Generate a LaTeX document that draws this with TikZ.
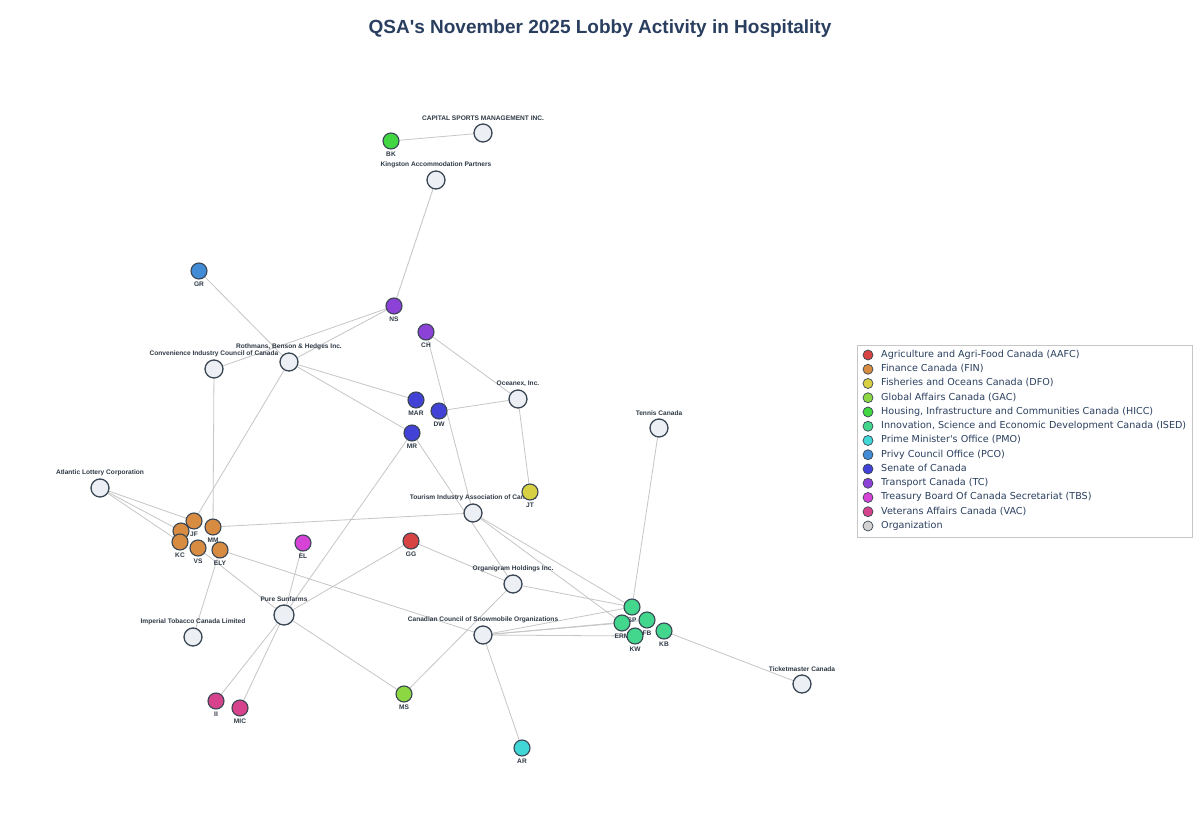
\documentclass[tikz,border=0pt]{standalone}
\usepackage{fontspec}
\setmainfont{Liberation Sans}
\newfontfamily\legfont{DejaVu Sans}
\usetikzlibrary{backgrounds}
\definecolor{aafc}{HTML}{D74242}
\definecolor{fin}{HTML}{D78C42}
\definecolor{dfo}{HTML}{D7D042}
\definecolor{gac}{HTML}{8CD742}
\definecolor{hicc}{HTML}{42D742}
\definecolor{ised}{HTML}{42D78C}
\definecolor{pmo}{HTML}{42D7D7}
\definecolor{pco}{HTML}{428CD7}
\definecolor{sen}{HTML}{4242D7}
\definecolor{tc}{HTML}{8C42D7}
\definecolor{tbs}{HTML}{D742D7}
\definecolor{vac}{HTML}{D7428C}
\definecolor{orgfill}{HTML}{ECF0F4}
\definecolor{orgleg}{HTML}{D3D3D3}
\definecolor{inkc}{HTML}{2A3F5F}
\definecolor{labc}{HTML}{2F3A46}
\definecolor{rimc}{HTML}{3A4654}
\definecolor{edgec}{HTML}{C6C6C6}
\begin{document}
\begin{tikzpicture}
      [x=1pt, y=-1pt,
      every label/.style={font=\bfseries\fontsize{6.6}{7}\selectfont, text=labc, inner sep=0pt},
      label distance=2.5pt,
      person/.style={circle, inner sep=0pt, minimum size=16pt, draw=rimc, line width=1.1pt, fill=#1},
      org/.style={circle, inner sep=0pt, minimum size=18pt, draw=rimc, line width=1.3pt, fill=orgfill},
      edge/.style={draw=edgec, line width=0.8pt},
      legdot/.style={circle, inner sep=0pt, minimum size=10pt, draw=rimc, line width=0.7pt, fill=#1},
      legtext/.style={anchor=west, inner sep=0pt, text height=6.9pt, text depth=2pt,
        font=\legfont\fontsize{9.6}{11}\selectfont, text=inkc},
      ]
      \useasboundingbox (0,0) rectangle (1200,840);
      \node[font=\bfseries\fontsize{19}{22}\selectfont, text=inkc] (title) at (600,29)
        {QSA\textquotesingle s November 2025 Lobby Activity in Hospitality};

      \node[org, label=above:{CAPITAL SPORTS MANAGEMENT INC.}] (capital) at (483,133) {};
      \node[org, label=above:{Kingston Accommodation Partners}] (kingston) at (436,180) {};
      \node[org, label=above:{Rothmans, Benson \& Hedges Inc.}] (rothmans) at (289,362) {};
      \node[org, label=above:{Convenience Industry Council of Canada}] (convenience) at (214,369) {};
      \node[org, label=above:{Oceanex, Inc.}] (oceanex) at (518,399) {};
      \node[org, label=above:{Tennis Canada}] (tennis) at (659,428) {};
      \node[org, label=above:{Atlantic Lottery Corporation}] (atlantic) at (100,488) {};
      \node[org, label=above:{Tourism Industry Association of Canada}] (tourism) at (473,513) {};
      \node[org, label=above:{Organigram Holdings Inc.}] (organigram) at (513,584) {};
      \node[org, minimum size=20pt, label=above:{Pure Sunfarms}] (sunfarms) at (284,615) {};
      \node[org, label=above:{Imperial Tobacco Canada Limited}] (imperial) at (193,637) {};
      \node[org, label=above:{Canadian Council of Snowmobile Organizations}] (snowmobile) at (483,635) {};
      \node[org, label=above:{Ticketmaster Canada}] (ticketmaster) at (802,684) {};

      \node[person=hicc, label=below:BK] (bk) at (391,141) {};
      \node[person=pco, label=below:GR] (gr) at (199,271) {};
      \node[person=tc, label=below:NS] (ns) at (394,306) {};
      \node[person=tc, label=below:CH] (ch) at (426,332) {};
      \node[person=sen, label=below:MAR] (mar) at (416,400) {};
      \node[person=sen, label=below:DW] (dw) at (439,411) {};
      \node[person=sen, label=below:MR] (mr) at (412,433) {};
      \node[person=dfo, label=below:JT] (jt) at (530,492) {};
      \node[person=fin] (fn) at (181,531) {};
      \node[person=fin, label=below:KC] (kc) at (180,542) {};
      \node[person=fin, label=below:JF] (jf) at (194,521) {};
      \node[person=fin, label=below:MM] (mm) at (213,527) {};
      \node[person=fin, label=below:VS] (vs) at (198,548) {};
      \node[person=fin, label=below:ELY] (ely) at (220,550) {};
      \node[person=tbs, label=below:EL] (el) at (303,543) {};
      \node[person=aafc, label=below:GG] (gg) at (411,541) {};
      \node[person=ised, label=below:SP] (sp) at (632,607) {};
      \node[person=ised, label=below:FB] (fb) at (647,620) {};
      \node[person=ised, label=below:ERM] (erm) at (622,623) {};
      \node[person=ised, label=below:KW] (kw) at (635,636) {};
      \node[person=ised, label=below:KB] (kb) at (664,631) {};
      \node[person=gac, label=below:MS] (ms) at (404,694) {};
      \node[person=pmo, label=below:AR] (ar) at (522,748) {};
      \node[person=vac, label=below:II] (ii) at (216,701) {};
      \node[person=vac, label=below:MIC] (mic) at (240,708) {};

      \begin{scope}[on background layer]
        \fill[white] (0,0) rectangle (1200,840);
        \foreach \a/\b in {bk/capital, ns/kingston, ns/rothmans, ns/convenience, gr/rothmans,
            mar/rothmans, mr/rothmans, mr/sunfarms, mr/organigram, ch/oceanex, ch/tourism,
            dw/oceanex, jt/oceanex, jf/rothmans, jf/atlantic, fn/atlantic, kc/atlantic,
            mm/convenience, mm/tourism, ely/imperial, ely/snowmobile, vs/sunfarms, el/sunfarms,
            gg/sunfarms, gg/organigram, ms/sunfarms, ms/organigram, ii/sunfarms, mic/sunfarms,
            sp/tennis, sp/tourism, sp/organigram, sp/snowmobile, erm/tourism, erm/snowmobile,
            fb/snowmobile, kw/snowmobile, kb/ticketmaster, ar/snowmobile}
          \draw[edge] (\a) -- (\b);
      \end{scope}

      \draw[edgec, line width=0.8pt] (857,345) rectangle (1192,537);
      \foreach \col/\txt [count=\i] in {aafc/{Agriculture and Agri-Food Canada (AAFC)},
          fin/{Finance Canada (FIN)}, dfo/{Fisheries and Oceans Canada (DFO)},
          gac/{Global Affairs Canada (GAC)},
          hicc/{Housing, Infrastructure and Communities Canada (HICC)},
          ised/{Innovation, Science and Economic Development Canada (ISED)},
          pmo/{Prime Minister\textquotesingle s Office (PMO)}, pco/{Privy Council Office (PCO)},
          sen/{Senate of Canada}, tc/{Transport Canada (TC)},
          tbs/{Treasury Board Of Canada Secretariat (TBS)},
          vac/{Veterans Affairs Canada (VAC)}, orgleg/{Organization}}
        {
        \node[legdot=\col] (leg\i) at (868, 340.75+\i*14.25) {};
        \node[legtext] (legt\i) at (881, 340.75+\i*14.25) {\txt};
        }
\end{tikzpicture}
\end{document}
